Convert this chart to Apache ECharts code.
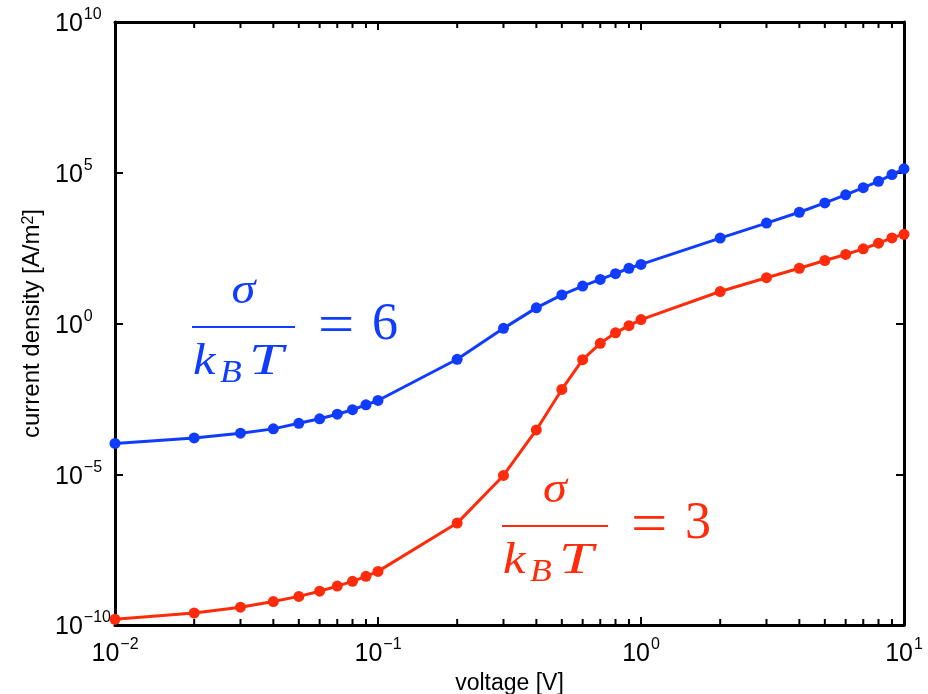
<!DOCTYPE html>
<html>
<head>
<meta charset="utf-8">
<title>current density vs voltage</title>
<script src="https://cdn.jsdelivr.net/npm/echarts@6/dist/echarts.min.js"></script>
<style>
  html, body { margin: 0; padding: 0; background: #fff; }
  #chart { width: 928px; height: 694px; }
</style>
</head>
<body>
<div id="chart"></div>
<script>
// voltage [V]
var voltage = [0.01, 0.02, 0.03, 0.04, 0.05, 0.06, 0.07, 0.08, 0.09,
  0.1, 0.2, 0.3, 0.4, 0.5, 0.6, 0.7, 0.8, 0.9,
  1, 2, 3, 4, 5, 6, 7, 8, 9, 10];
// current density [A/m^2], sigma/kT = 6
var density6 = [1.05e-4, 1.6e-4, 2.3e-4, 3.2e-4, 4.9e-4, 6.9e-4, 9.8e-4, 1.38e-3, 2.0e-3,
  2.8e-3, 6.5e-2, 0.69, 3.3, 8.9, 17.4, 29, 45, 68,
  91, 680, 2140, 4900, 1.0e4, 1.86e4, 3.2e4, 5.2e4, 8.7e4, 1.35e5];
// current density [A/m^2], sigma/kT = 3
var density3 = [1.55e-10, 2.5e-10, 3.9e-10, 6.0e-10, 8.9e-10, 1.32e-9, 1.95e-9, 2.8e-9, 4.1e-9,
  6.0e-9, 2.4e-7, 9.1e-6, 2.95e-4, 6.5e-3, 6.3e-2, 0.22, 0.49, 0.85,
  1.35, 11.5, 33, 68, 123, 195, 300, 460, 690, 910];
// minor tick positions on the voltage axis
var minorTicksX = [0.02, 0.03, 0.04, 0.05, 0.06, 0.07, 0.08, 0.09,
  0.2, 0.3, 0.4, 0.5, 0.6, 0.7, 0.8, 0.9,
  2, 3, 4, 5, 6, 7, 8, 9];

var xMin = 0.01, xMax = 10;
var yMin = 1e-10, yMax = 1e10;

var sans = "'Liberation Sans', Arial, sans-serif";
var serif = "'Liberation Serif', 'DejaVu Serif', serif";
var blue = "#0f3cff";
var red = "#ff2b0a";

function powLabel(value) {
  var e = Math.round(Math.log10(value));
  var s = e < 0 ? "\u2212" + (-e) : String(e);
  return "{b|10}{s|" + s + "}";
}

var labelRich = {
  b: { fontSize: 25, fontFamily: sans, color: "#000", lineHeight: 30, verticalAlign: "bottom" },
  s: { fontSize: 16, fontFamily: sans, color: "#000", verticalAlign: "top", lineHeight: 12, padding: [0, 0, 0, 1] }
};

function axisCommon(extra) {
  var base = {
    type: "log",
    logBase: 10,
    axisLine: { show: true, onZero: false, lineStyle: { color: "#000", width: 3 } },
    axisTick: { show: true, inside: true, length: 8, lineStyle: { color: "#000", width: 2 } },
    splitLine: { show: false },
    minorTick: { show: false }
  };
  for (var k in extra) base[k] = extra[k];
  return base;
}

// the label "sigma / (k_B T) = n", bar from x0 to x1 at height barY
function fraction(x0, x1, barY, color, num) {
  var cx = (x0 + x1) / 2;
  var it = "italic 44px " + serif;
  return [
    { type: "text", x: cx, y: barY - 14, scaleX: 1.1, style: { text: "\u03c3", font: it, fill: color, textAlign: "center", textVerticalAlign: "bottom" } },
    { type: "line", shape: { x1: x0, y1: barY, x2: x1, y2: barY }, style: { stroke: color, lineWidth: 2 } },
    { type: "text", x: x0 + 1, y: barY + 57, scaleX: 1.15, style: { text: "k", font: it, fill: color, textAlign: "left", textVerticalAlign: "bottom" } },
    { type: "text", x: x0 + 28, y: barY + 62, scaleX: 1.15, style: { text: "B", font: "italic 31px " + serif, fill: color, textAlign: "left", textVerticalAlign: "bottom" } },
    { type: "text", x: x0 + 57, y: barY + 57, scaleX: 1.4, style: { text: "T", font: it, fill: color, textAlign: "left", textVerticalAlign: "bottom" } },
    { type: "text", x: x1 + 23, y: barY + 1, scaleX: 1.15, style: { text: "=", font: "56px " + serif, fill: color, textAlign: "left", textVerticalAlign: "middle" } },
    { type: "text", x: x1 + 77, y: barY + 24, style: { text: String(num), font: "52px " + serif, fill: color, textAlign: "left", textVerticalAlign: "bottom" } }
  ];
}

var chart = echarts.init(document.getElementById("chart"), null, { renderer: "canvas" });

var option = {
  backgroundColor: "#fff",
  animation: false,
  grid: { left: 115, right: 24, top: 22, bottom: 69, containLabel: false, outerBoundsMode: "none" },
  xAxis: [
    axisCommon({
      position: "bottom",
      min: xMin, max: xMax, interval: 1,
      name: "voltage [V]",
      nameLocation: "middle",
      nameGap: 44,
      nameTextStyle: { fontSize: 23, fontFamily: sans, color: "#000" },
      axisLabel: { show: true, margin: 12, formatter: powLabel, rich: labelRich, showMinLabel: true, showMaxLabel: true, hideOverlap: false }
    }),
    axisCommon({
      position: "top",
      min: xMin, max: xMax, interval: 1,
      axisLabel: { show: false }
    })
  ],
  yAxis: [
    axisCommon({
      position: "left",
      min: yMin, max: yMax, interval: 5, splitNumber: 4,
      name: "current density [A/m{s|2}]",
      nameLocation: "middle",
      nameGap: 67,
      nameRotate: 90,
      nameTextStyle: {
        fontSize: 24, fontFamily: sans, color: "#000",
        rich: { s: { fontSize: 16, fontFamily: sans, color: "#000", verticalAlign: "top", lineHeight: 14 } }
      },
      axisLabel: { show: true, margin: 60, align: "left", formatter: powLabel, rich: labelRich, showMinLabel: true, showMaxLabel: true, hideOverlap: false }
    }),
    axisCommon({
      position: "right",
      min: yMin, max: yMax, interval: 5, splitNumber: 4,
      axisLabel: { show: false }
    })
  ],
  series: [
    {
      name: "sigma/kT = 6",
      type: "line",
      xAxisIndex: 0, yAxisIndex: 0,
      data: voltage.map(function (v, i) { return [v, density6[i]]; }),
      symbol: "circle",
      symbolSize: 11,
      clip: false,
      itemStyle: { color: blue },
      lineStyle: { color: blue, width: 3 },
      z: 3
    },
    {
      name: "sigma/kT = 3",
      type: "line",
      xAxisIndex: 0, yAxisIndex: 0,
      data: voltage.map(function (v, i) { return [v, density3[i]]; }),
      symbol: "circle",
      symbolSize: 11,
      clip: false,
      itemStyle: { color: red },
      lineStyle: { color: red, width: 3 },
      z: 3
    },
    {
      // minor ticks at 2..9 of each decade, bottom and top
      type: "custom",
      xAxisIndex: 0, yAxisIndex: 0,
      silent: true,
      clip: false,
      data: minorTicksX.map(function (v) { return [v, 1]; }),
      renderItem: function (params, api) {
        var v = api.value(0);
        var pb = api.coord([v, yMin]);
        var pt = api.coord([v, yMax]);
        return {
          type: "group",
          children: [
            { type: "line", shape: { x1: pb[0], y1: pb[1], x2: pb[0], y2: pb[1] - 6 }, style: { stroke: "#000", lineWidth: 2 } },
            { type: "line", shape: { x1: pt[0], y1: pt[1], x2: pt[0], y2: pt[1] + 6 }, style: { stroke: "#000", lineWidth: 2 } }
          ]
        };
      },
      z: 2
    }
  ],
  graphic: [].concat(
    fraction(192, 295, 327, blue, 6),
    fraction(502, 608, 526, red, 3)
  )
};

chart.setOption(option);
window.addEventListener("resize", function () { chart.resize(); });
</script>
</body>
</html>
